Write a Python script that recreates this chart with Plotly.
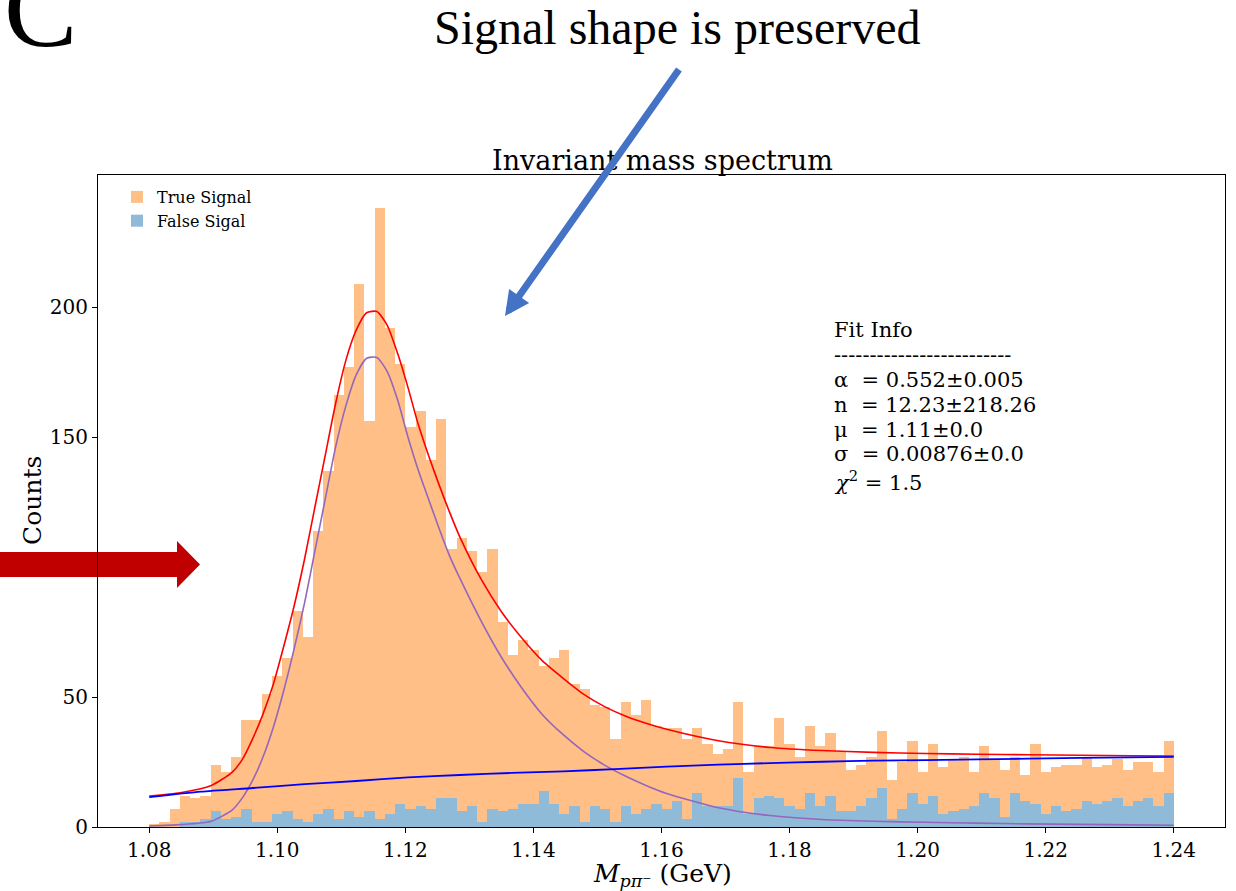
import numpy as np
import plotly.graph_objects as go

# ---------------- data ----------------
bin_lo, bin_hi, n_bins = 1.08, 1.24, 100

true_signal = [1, 2, 7, 12, 11, 12, 24, 21, 27, 41, 41, 51, 58, 65, 83, 73, 114, 137, 166, 177,
               209, 156, 238, 192, 178, 154, 160, 141, 157, 107, 111, 106, 98, 107, 79, 66, 72, 68, 62, 65,
               68, 55, 53, 47, 46, 34, 48, 43, 49, 39, 38, 38, 34, 38, 32, 28, 30, 48, 21, 31,
               31, 42, 32, 27, 39, 31, 36, 29, 22, 24, 27, 37, 18, 25, 33, 21, 32, 23, 26, 27,
               21, 31, 26, 22, 27, 20, 32, 21, 23, 24, 24, 27, 23, 24, 26, 22, 25, 25, 21, 33]

false_signal = [0, 0, 0, 2, 2, 3, 6, 3, 4, 7, 2, 2, 5, 6, 3, 2, 5, 7, 3, 6,
                4, 6, 3, 5, 9, 7, 8, 7, 11, 11, 6, 8, 2, 7, 6, 7, 9, 9, 14, 9,
                5, 8, 2, 8, 7, 2, 8, 5, 7, 9, 7, 10, 3, 13, 8, 8, 8, 19, 5, 11,
                12, 11, 8, 7, 13, 8, 12, 6, 6, 8, 11, 15, 3, 7, 13, 9, 12, 5, 6, 7,
                8, 13, 11, 4, 13, 10, 9, 5, 8, 6, 7, 10, 9, 10, 11, 8, 10, 11, 8, 13]

# fit curves, sampled at indices of linspace(1.08, 1.24, 100)
total_idx = [0, 3, 6, 8, 9, 10, 11, 12, 13, 14, 15, 16, 17, 18, 19, 20, 21, 22, 23, 24, 25, 26, 27, 28,
             29, 30, 32, 34, 36, 38, 40, 42, 44, 46, 48, 50, 55, 60, 65, 70, 75, 80, 85, 90, 95, 99]
total_fit = [11.9, 13.2, 16.0, 21.0, 26.0, 34.0, 43.5, 55.0, 69.5, 85.0, 102.9, 122.9, 142.8, 162.7, 179.5,
             191.1, 197.8, 198.3, 193.0, 182.2, 169.1, 154.8, 142.8, 131.7, 121.3, 111.7, 95.8, 83.0, 72.7,
             63.9, 57.2, 51.0, 46.3, 42.7, 39.9, 37.6, 33.2, 30.6, 29.4, 28.7, 28.3, 28.0, 27.8, 27.6, 27.4, 27.3]

signal_idx = [0, 3, 6, 8, 9, 10, 11, 12, 13, 14, 15, 16, 17, 18, 19, 20, 21, 22, 23, 24, 25, 26, 27, 28,
              29, 30, 32, 34, 36, 38, 40, 42, 44, 46, 48, 50, 55, 60, 65, 70, 75, 80, 85, 90, 95, 99]
signal_fit = [0.4, 0.9, 2.2, 6.5, 11.2, 18.0, 27.0, 38.5, 52.5, 68.5, 86.0, 106.0, 126.0, 146.0, 162.0,
              173.9, 180.3, 180.6, 175.2, 164.3, 150.0, 137.2, 126.0, 114.9, 104.5, 95.8, 79.8, 65.5, 53.5,
              43.2, 35.5, 29.0, 23.8, 19.6, 16.0, 12.9, 7.4, 4.4, 2.9, 2.2, 1.8, 1.5, 1.2, 1.0, 0.8, 0.7]

bkg_idx = [0, 5, 10, 15, 20, 25, 30, 35, 40, 45, 50, 55, 60, 65, 70, 80, 90, 99]
bkg_fit = [11.5, 13.6, 15.0, 16.5, 17.7, 19.1, 20.0, 20.8, 21.4, 22.3, 23.2, 24.0, 24.6, 25.1, 25.5, 26.0, 26.6, 27.0]

x_ticks = [1.08, 1.10, 1.12, 1.14, 1.16, 1.18, 1.20, 1.22, 1.24]
y_ticks = [0, 50, 150, 200]

NB = "\u00a0"
fit_lines = ["Fit Info",
             "-------------------------",
             f"α{NB}{NB}={NB}0.552±0.005",
             f"n{NB}{NB}={NB}12.23±218.26",
             f"μ{NB}{NB}={NB}1.11±0.0",
             f"σ{NB}{NB}={NB}0.00876±0.0",
             f"<i>χ</i><sup>2</sup>{NB}={NB}1.5"]

# ---------------- derived ----------------
edges = np.linspace(bin_lo, bin_hi, n_bins + 1)
centers = 0.5 * (edges[:-1] + edges[1:])
bw = edges[1] - edges[0]
xs = np.linspace(bin_lo, bin_hi, 100)

W, H = 1236, 891
L, R, T, B = 98, 1225, 175, 827


def px(x):
    return (x - L) / (R - L)


def py(y):
    return (B - y) / (B - T)


SERIF = "DejaVu Serif"
TIMES = "Liberation Serif"

fig = go.Figure()
fig.add_trace(go.Bar(x=centers, y=true_signal, width=bw, name="True Signal",
                     marker=dict(color="#FFBF86", line=dict(width=0))))
fig.add_trace(go.Bar(x=centers, y=false_signal, width=bw, name="False Sigal",
                     marker=dict(color="#8FBAD8", line=dict(width=0))))
fig.add_trace(go.Scatter(x=xs[total_idx], y=total_fit, mode="lines", showlegend=False,
                         line=dict(color="#FF0000", width=1.6, shape="spline", smoothing=0.6)))
fig.add_trace(go.Scatter(x=xs[signal_idx], y=signal_fit, mode="lines", showlegend=False,
                         line=dict(color="#9467BD", width=1.6, shape="spline", smoothing=0.6)))
fig.add_trace(go.Scatter(x=xs[bkg_idx], y=bkg_fit, mode="lines", showlegend=False,
                         line=dict(color="#0000FF", width=1.8, shape="spline", smoothing=0.6)))

fig.update_layout(
    width=W, height=H,
    margin=dict(l=L, r=W - R, t=T, b=H - B),
    paper_bgcolor="white", plot_bgcolor="white",
    barmode="overlay", bargap=0,
    font=dict(family=SERIF, color="black", size=20),
    legend=dict(x=px(117), y=py(180), xanchor="left", yanchor="top",
                bgcolor="rgba(0,0,0,0)", borderwidth=0,
                font=dict(family=SERIF, size=16), tracegroupgap=0, itemwidth=30),
    xaxis=dict(range=[1.072, 1.248], tickvals=x_ticks, ticktext=[f"{v:.2f}" for v in x_ticks],
               showgrid=False, zeroline=False, showline=True, linecolor="black", linewidth=1,
               mirror=True, ticks="outside", ticklen=5, tickcolor="black",
               tickfont=dict(family=SERIF, size=20)),
    yaxis=dict(range=[0, 250.8], tickvals=y_ticks, ticktext=[str(v) for v in y_ticks],
               showgrid=False, zeroline=False, showline=True, linecolor="black", linewidth=1,
               mirror=True, ticks="outside", ticklen=5, tickcolor="black",
               tickfont=dict(family=SERIF, size=20)),
)

ann = []
ann.append(dict(text="Invariant mass spectrum", x=px(662), y=py(160), xref="paper", yref="paper",
                showarrow=False, xanchor="center", yanchor="middle",
                font=dict(family=SERIF, size=27)))
ann.append(dict(text="Counts", x=px(32), y=py(501), xref="paper", yref="paper", textangle=-90,
                showarrow=False, xanchor="center", yanchor="middle",
                font=dict(family=SERIF, size=25)))
ann.append(dict(text="<i>M</i><sub><i>pπ</i>⁻</sub> (GeV)", x=px(662), y=py(875), xref="paper", yref="paper",
                showarrow=False, xanchor="center", yanchor="middle",
                font=dict(family=SERIF, size=25)))
ann.append(dict(text="Signal shape is preserved", x=px(677), y=py(27), xref="paper", yref="paper",
                showarrow=False, xanchor="center", yanchor="middle",
                font=dict(family=TIMES, size=48)))
ann.append(dict(text="C", x=px(40), y=py(9), xref="paper", yref="paper",
                showarrow=False, xanchor="center", yanchor="middle",
                font=dict(family=TIMES, size=110)))
line_y = [330, 355, 380, 405, 430, 454, 481]
for t, yy in zip(fit_lines, line_y):
    ann.append(dict(text=t, x=px(832), y=py(yy), xref="paper", yref="paper",
                    showarrow=False, xanchor="left", yanchor="middle",
                    font=dict(family=SERIF, size=21)))
# blue arrow
ann.append(dict(text="", x=px(505), y=py(316), xref="paper", yref="paper",
                ax=680 - 505, ay=68 - 316, axref="pixel", ayref="pixel",
                showarrow=True, arrowhead=2, arrowsize=0.7, arrowwidth=7, arrowcolor="#4472C4"))
fig.update_layout(annotations=ann)

# red arrow as a path
pts = [(0, 552), (177, 552), (177, 541), (200, 564.5), (177, 588), (177, 577), (0, 577)]
path = "M " + " L ".join(f"{px(a):.5f},{py(b):.5f}" for a, b in pts) + " Z"
fig.add_shape(type="path", path=path, xref="paper", yref="paper",
              fillcolor="#C00000", line=dict(width=0), layer="below")

fig.write_html("out.html", config={"displayModeBar": False},
               post_script="document.body.style.margin='0';document.body.style.overflow='hidden';")
